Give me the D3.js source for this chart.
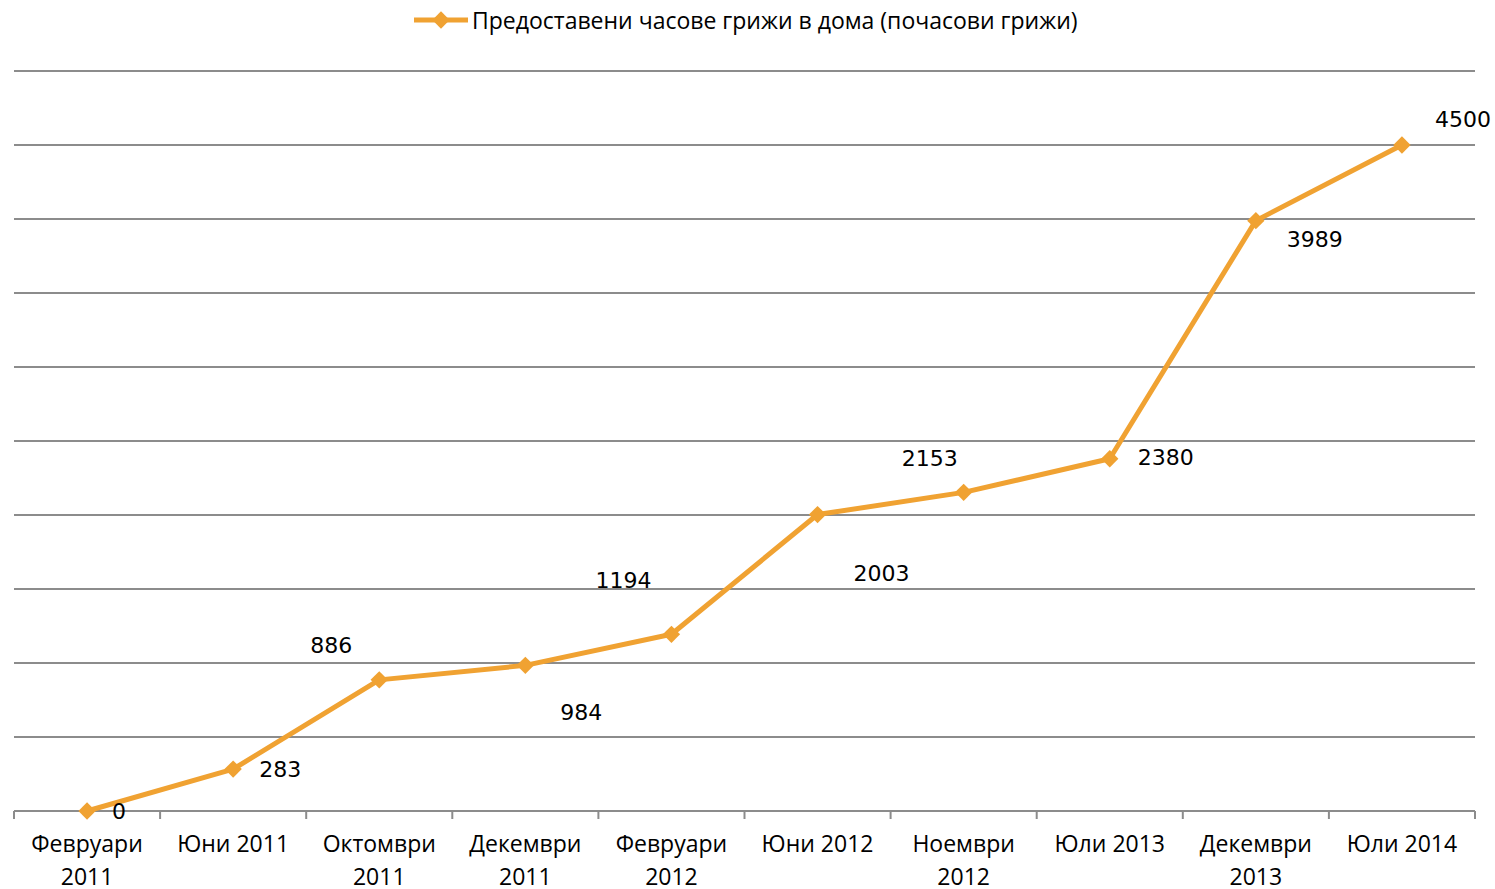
<!DOCTYPE html>
<html><head><meta charset="utf-8">
<script src="https://cdn.jsdelivr.net/npm/d3@7"></script>
<style>body{margin:0;background:#fff}svg{display:block}</style>
</head><body>
<script>
const categories = [["Февруари","2011"],["Юни 2011"],["Октомври","2011"],["Декември","2011"],["Февруари","2012"],["Юни 2012"],["Ноември","2012"],["Юли 2013"],["Декември","2013"],["Юли 2014"]];
const values = [0,283,886,984,1194,2003,2153,2380,3989,4500];
const seriesName = "Предоставени часове грижи в дома (почасови грижи)";
const yTicks = [0,500,1000,1500,2000,2500,3000,3500,4000,4500,5000];
const labelOffsets = [[32,0],[47,0],[-48,-35],[56,47],[-48,-54],[64,59],[-34,-34],[56,-1],[59,19],[61,-26]];

const W=1495,H=889, color="#F0A232", grid="#8c8c8c";
const svg=d3.select("body").append("svg").attr("width",W).attr("height",H);
const x=d3.scaleBand().domain(d3.range(categories.length)).range([14,1475]);
const y=d3.scaleLinear().domain([0,5000]).range([811,71]);

svg.append("g").selectAll("line").data(yTicks).join("line")
 .attr("x1",14).attr("x2",1475).attr("y1",d=>y(d)).attr("y2",d=>y(d))
 .attr("stroke",grid).attr("stroke-width",2);
const bounds=d3.range(categories.length+1).map(i=>14+i*x.bandwidth());
svg.append("g").selectAll("line").data(bounds).join("line")
 .attr("x1",d=>d).attr("x2",d=>d).attr("y1",811).attr("y2",819)
 .attr("stroke",grid).attr("stroke-width",2);

const cx=i=>x(i)+x.bandwidth()/2;
svg.append("path").datum(values).attr("fill","none").attr("stroke",color).attr("stroke-width",5).attr("stroke-linejoin","round")
 .attr("d",d3.line().x((d,i)=>cx(i)).y(d=>y(d)));
const diamond=d3.symbol().type(d3.symbolSquare).size(150);
svg.append("g").selectAll("path").data(values).join("path")
 .attr("d",diamond).attr("fill",color)
 .attr("transform",(d,i)=>`translate(${cx(i)},${y(d)}) rotate(45)`);

svg.append("g").selectAll("text").data(values).join("text")
 .attr("x",(d,i)=>cx(i)+labelOffsets[i][0]).attr("y",(d,i)=>y(d)+labelOffsets[i][1])
 .attr("text-anchor","middle").attr("dy","0.35em")
 .attr("font-family","DejaVu Sans").attr("font-size",22).attr("fill","#000").text(d=>d);

const xl=svg.append("g").selectAll("text").data(categories).join("text")
 .attr("x",(d,i)=>cx(i)).attr("y",852).attr("text-anchor","middle")
 .attr("font-family","Open Sans").attr("font-size",23).attr("fill","#000");
xl.each(function(d){const t=d3.select(this);d.forEach((s,j)=>t.append("tspan").attr("x",t.attr("x")).attr("dy",j?33:0).text(s));});

const lg=svg.append("g");
lg.append("line").attr("x1",414).attr("x2",468).attr("y1",20).attr("y2",20).attr("stroke",color).attr("stroke-width",5);
lg.append("path").attr("d",diamond).attr("fill",color).attr("transform","translate(441,20) rotate(45)");
lg.append("text").attr("x",472).attr("y",21).attr("dy","0.35em").attr("font-family","Open Sans").attr("font-size",23).text(seriesName);
</script>
</body></html>
